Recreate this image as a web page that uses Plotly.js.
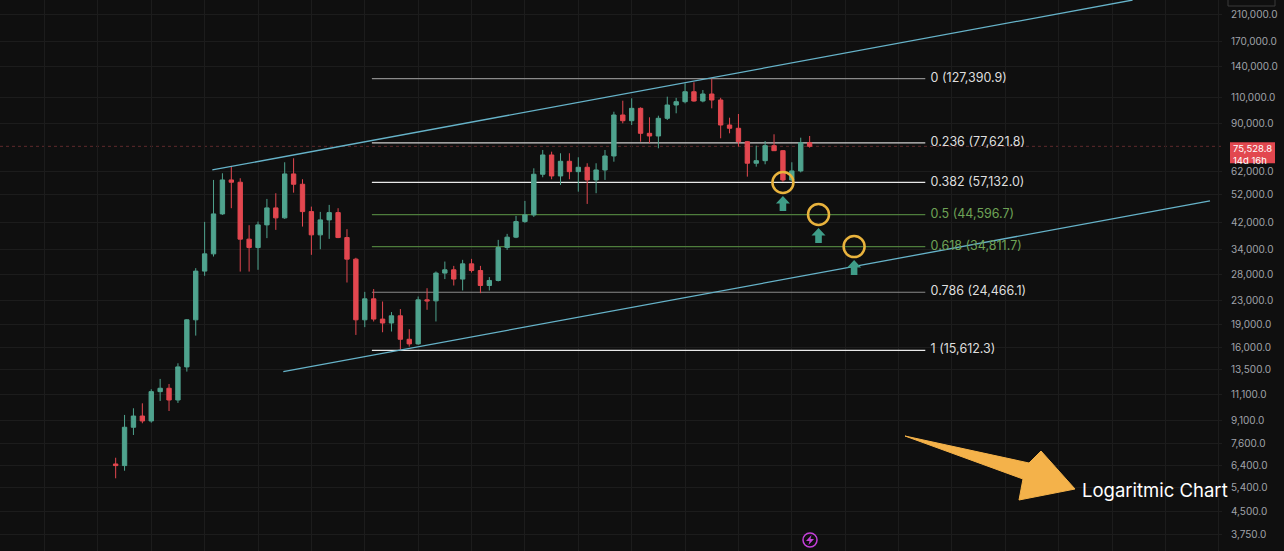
<!DOCTYPE html>
<html><head><meta charset="utf-8">
<script src="https://cdn.plot.ly/plotly-3.0.1.min.js"></script>
<style>html,body{margin:0;padding:0;background:#0f0f0f;overflow:hidden}#chart{width:1284px;height:551px}</style>
</head><body><div id="chart"></div>
<script>
// ---- candle data (monthly candles) ----
const openP = [6490,6410,8620,9400,9050,11350,11650,10640,13740,19770,28800,32910,44810,58260,57240,36870,34550,41170,46940,43460,61020,56350,45610,38110,42790,45260,37330,31590,19770,23250,19880,19290,20390,17010,16410,23070,22890,28370,29090,27080,30460,28930,25770,26790,34550,37440,42230,44470,60880,70660,60090,67300,62110,64250,58260,62930,70120,96230,92090,101310,83530,81820,93800,103960,106640,115170,107220,113170,108050,89070,86850,78290,66290,67610,75920,73040,58260,62450,77680];
const highP = [6810,9480,9980,10370,11560,12520,12040,14130,19880,29470,42130,58260,61340,64910,59030,41070,42230,50310,52570,66780,68870,58570,47410,45510,48040,46830,39820,31930,24540,25070,22770,20990,21480,18380,23670,25240,28720,31010,29990,31420,31660,29990,27500,36670,38410,44130,49540,63740,73440,72480,71590,71590,69410,66270,66270,73440,98690,107470,109460,102100,94520,95710,110860,109880,122890,123870,116700,127390.9,109880,94230,96980,78720,75920,78720,82900,73440,66780,80750,81820];
const lowP = [5810,6160,8120,8890,8930,10560,9770,10400,13250,17500,27780,32230,44470,46830,28700,28700,29090,37160,39610,43130,52810,40630,32660,34110,36950,37160,26370,17590,18680,19520,17960,18060,15612.3,16070,16300,21360,19520,27080,25770,24800,28490,24290,24800,26590,33940,37160,41810,43780,59470,58570,56050,58570,53230,48410,52570,58260,67090,90240,89070,78290,77330,74400,92590,97490,105290,106640,106140,101310,80380,83530,75330,59760,64550,65770,72870,57400,57810,61760,74760];
const closeP = [6410,8620,9400,9050,11350,11650,10640,13740,19770,28800,32910,44810,58260,57240,36870,34550,41170,46940,43460,61020,56350,45610,38110,42790,45260,37330,31590,19770,23250,19880,19290,20390,17010,16410,23070,22890,28370,29090,27080,30460,28930,25770,26790,34550,37440,42230,44470,60880,70660,60090,67300,62110,64250,58260,62930,70120,96230,92090,101310,83530,81820,93800,103960,106640,115170,107220,113170,108050,89070,86850,78290,66290,67610,75920,73040,58260,62450,77680,75528.8];

// ---- fibonacci retracement ----
const fibRatios = [0, 0.236, 0.382, 0.5, 0.618, 0.786, 1];
const fibPrices = [127390.9, 77621.8, 57132.0, 44596.7, 34811.7, 24466.1, 15612.3];
const fibLineColors = ['#8a8a8a', '#cfcfcf', '#e8e8e8', '#4e7d3c', '#4e7d3c', '#8a8a8a', '#e8e8e8'];
const fibTextColors = ['#dedede', '#dedede', '#dedede', '#6ea256', '#6ea256', '#dedede', '#dedede'];
const fibStartIdx = 28.8, fibEndIdx = 91.0, fibLabelIdx = 91.6;

// ---- channel lines (candle index, price) ----
const upperChannelX = [10.86, 114.3];
const upperChannelY = [62930, 233960];
const lowerChannelX = [18.84, 123.0];
const lowerChannelY = [13250, 49550];

// ---- target circles ----
const targetIdx = [75, 79, 83];
const targetPrice = [57132.0, 44596.7, 34811.7];

// ---- axis ticks ----
const yTickVals = [3750, 4500, 5400, 6400, 7600, 9100, 11100, 13500, 16000, 19000, 23000, 28000, 34000, 42000, 52000, 62000, 90000, 110000, 140000, 170000, 210000];
const lastPrice = 75528.8;
const countdown = '14d 16h';

const fmt1 = v => v.toLocaleString('en-US', {minimumFractionDigits: 1, maximumFractionDigits: 1});
const xIdx = openP.map((_, i) => i);

const GREEN = '#4fa38e', RED = '#e2474f', CHAN = '#66b3c9';
const FONT = 'Inter, "Noto Sans", "DejaVu Sans", sans-serif';

const traces = [
  {type: 'scatter', mode: 'lines', x: upperChannelX, y: upperChannelY, line: {color: CHAN, width: 1.3}, hoverinfo: 'skip'},
  {type: 'scatter', mode: 'lines', x: lowerChannelX, y: lowerChannelY, line: {color: CHAN, width: 1.3}, hoverinfo: 'skip'},
  {
    type: 'candlestick', x: xIdx, open: openP, high: highP, low: lowP, close: closeP,
    increasing: {line: {color: GREEN, width: 1}, fillcolor: GREEN},
    decreasing: {line: {color: RED, width: 1}, fillcolor: RED},
    whiskerwidth: 0, hoverinfo: 'skip'
  },
  {
    type: 'scatter', mode: 'text', x: fibPrices.map(() => fibLabelIdx), y: fibPrices,
    text: fibRatios.map((r, i) => r + ' (' + fmt1(fibPrices[i]) + ')'),
    textposition: 'middle right', textfont: {family: FONT, size: 12.5, color: fibTextColors},
    hoverinfo: 'skip', cliponaxis: false
  }
];

const R = 10.5, K = 5.8;
const circlePath = `M${R},0 C${R},${K} ${K},${R} 0,${R} C${-K},${R} ${-R},${K} ${-R},0 C${-R},${-K} ${-K},${-R} 0,${-R} C${K},${-R} ${R},${-K} ${R},0 Z`;

const shapes = [];
fibPrices.forEach((p, i) => {
  shapes.push({type: 'line', xref: 'x', yref: 'y', x0: fibStartIdx, x1: fibEndIdx, y0: p, y1: p,
    line: {color: fibLineColors[i], width: 1.2}, layer: 'between'});
});
// last price dotted line
shapes.push({type: 'line', xref: 'paper', yref: 'y', x0: 0, x1: 1, y0: lastPrice, y1: lastPrice,
  line: {color: '#5e2a2c', width: 1, dash: 'dot'}, layer: 'between'});
// target circles and arrows
targetIdx.forEach((xi, i) => {
  shapes.push({type: 'path', xref: 'x', yref: 'y', xsizemode: 'pixel', ysizemode: 'pixel',
    xanchor: xi, yanchor: targetPrice[i], path: circlePath,
    line: {color: '#e9b33d', width: 2.5}, fillcolor: 'rgba(0,0,0,0)', layer: 'above'});
  shapes.push({type: 'path', xref: 'x', yref: 'y', xsizemode: 'pixel', ysizemode: 'pixel',
    xanchor: xi, yanchor: targetPrice[i],
    path: 'M0,-13.5 L7,-21 L3.3,-21 L3.3,-28.5 L-3.3,-28.5 L-3.3,-21 L-7,-21 Z',
    fillcolor: '#3f9d88', line: {width: 0}, layer: 'above'});
});
// price label box on axis
shapes.push({type: 'path', xref: 'paper', yref: 'y', xsizemode: 'pixel', ysizemode: 'pixel',
  xanchor: 1, yanchor: lastPrice, path: 'M8,4 L53,4 L53,-17 L8,-17 Z',
  fillcolor: '#e2474f', line: {width: 0}, layer: 'above'});
// big orange arrow (pixel coords from top-left of plot)
shapes.push({type: 'path', xref: 'paper', yref: 'paper', xsizemode: 'pixel', ysizemode: 'pixel',
  xanchor: 0, yanchor: 1,
  path: 'M905,-436 L1029,-463 L1041,-451 L1075,-489 L1019,-500 L1023,-479 Z',
  fillcolor: '#f4b24a', line: {color: '#f4b24a', width: 1}, layer: 'above'});
// lightning icon
shapes.push({type: 'path', xref: 'paper', yref: 'paper', xsizemode: 'pixel', ysizemode: 'pixel',
  xanchor: 0, yanchor: 1,
  path: 'M817,-540 C817,-536.1 813.9,-533 810,-533 C806.1,-533 803,-536.1 803,-540 C803,-543.9 806.1,-547 810,-547 C813.9,-547 817,-543.9 817,-540 Z',
  line: {color: '#c43fd9', width: 1.5}, fillcolor: 'rgba(0,0,0,0)', layer: 'above'});
shapes.push({type: 'path', xref: 'paper', yref: 'paper', xsizemode: 'pixel', ysizemode: 'pixel',
  xanchor: 0, yanchor: 1, path: 'M811.5,-535 L806,-541 L809.5,-541 L808.5,-545 L814,-539 L810.5,-539 Z',
  fillcolor: '#c43fd9', line: {width: 0}, layer: 'above'});
// small box top right
shapes.push({type: 'path', xref: 'paper', yref: 'paper', xsizemode: 'pixel', ysizemode: 'pixel',
  xanchor: 1, yanchor: 1, path: 'M6,6 L53,6 L53,-6 L6,-6 Z',
  line: {color: '#3a3a3a', width: 1}, fillcolor: '#0f0f0f', layer: 'above'});

const annotations = [
  {xref: 'paper', yref: 'y', x: 1, y: Math.log10(lastPrice), xanchor: 'left', yanchor: 'top', xshift: 9, yshift: 5,
    text: fmt1(lastPrice) + '<br>' + countdown, align: 'left', showarrow: false,
    font: {family: FONT, size: 9.5, color: '#ffffff'}},
  {xref: 'paper', yref: 'paper', x: 1080 / 1222, y: 1 - 490 / 551, xanchor: 'left', yanchor: 'middle',
    text: 'Logaritmic Chart', showarrow: false, font: {family: FONT, size: 18.5, color: '#ffffff'}}
];

const layout = {
  width: 1284, height: 551,
  margin: {l: 0, r: 62, t: 0, b: 0, pad: 0},
  paper_bgcolor: '#0f0f0f', plot_bgcolor: '#0f0f0f',
  showlegend: false,
  xaxis: {range: [-13.0, 124.35], showgrid: true, gridcolor: '#1c1c1c', gridwidth: 1,
    tickmode: 'linear', tick0: 4, dtick: 6, showticklabels: false, zeroline: false, showline: false,
    rangeslider: {visible: false}, fixedrange: true},
  yaxis: {type: 'log', range: [3.5202, 5.3692], side: 'right', showgrid: true, gridcolor: '#1c1c1c',
    tickmode: 'array', tickvals: yTickVals, ticktext: yTickVals.map(fmt1),
    tickfont: {family: FONT, size: 10, color: '#a0a3aa'}, ticks: '', ticklabelstandoff: 8,
    zeroline: false, showline: false, fixedrange: true},
  shapes: shapes,
  annotations: annotations
};

Plotly.newPlot('chart', traces, layout, {displayModeBar: false, staticPlot: true});
</script>
</body></html>
